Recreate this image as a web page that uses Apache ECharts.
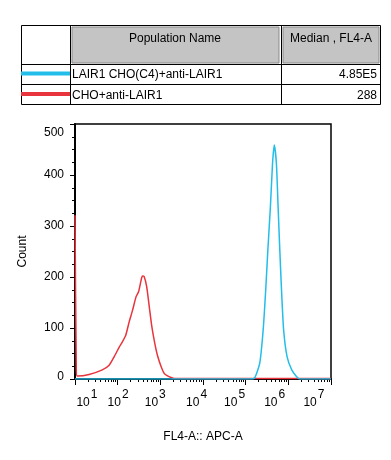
<!DOCTYPE html>
<html>
<head>
<meta charset="utf-8">
<script src="https://cdn.jsdelivr.net/npm/echarts@6/dist/echarts.min.js"></script>
<style>
html,body{margin:0;padding:0;background:#fff;}
#chart{width:391px;height:460px;}
</style>
</head>
<body>
<div id="chart"></div>
<script>
// ---- data (x in log10 units of FL4-A, y = count) ----
const populationNames = ['LAIR1 CHO(C4)+anti-LAIR1', 'CHO+anti-LAIR1'];
const medians = ['4.85E5', '288'];
const seriesColors = ['#22bde9', '#e8343c'];

const blueX = [1.00, 5.10, 5.21, 5.33, 5.41, 5.47, 5.52, 5.58, 5.63, 5.67, 5.72, 5.76, 5.80, 5.84, 5.89, 5.97, 6.08, 6.19, 6.27, 7.00];
const blueY = [0, 0, 2, 31, 96, 175, 253, 338, 423, 459, 423, 338, 253, 175, 96, 44, 18, 5, 0, 0];

const redX = [1.00, 1.03, 1.05, 1.33, 1.64, 1.80, 1.92, 2.04, 2.11, 2.19, 2.27, 2.35, 2.43, 2.49, 2.55, 2.58, 2.62, 2.68, 2.74, 2.80, 2.87, 2.94, 3.02, 3.09, 3.17, 3.25, 3.33, 4.00, 5.00, 6.00, 7.00];
const redY = [321, 20, 6, 9, 18, 27, 44, 63, 73, 86, 112, 135, 161, 171, 194, 202, 201, 181, 142, 103, 70, 44, 24, 11, 6, 3, 1, 1, 1, 1, 1];

const yTicks = [0, 100, 200, 300, 400, 500];
const xDecades = [1, 2, 3, 4, 5, 6, 7];
// where the instrument software drew the decade labels (axis units)
const xLabelAt = [1.28, 2.01, 2.88, 3.85, 4.74, 5.68, 6.60];

// ---- chart ----
const chart = echarts.init(document.getElementById('chart'), null, {renderer: 'canvas'});
const FONT = '"Liberation Sans", Arial, sans-serif';

const minorTicks = [];
for (let d = 1; d < 7; d++) {
  for (let k = 2; k <= 9; k++) minorTicks.push(Math.log10(k * Math.pow(10, d)));
}

const pair = (xs, ys) => xs.map((x, i) => [x, ys[i]]);

const g = [];
// table
g.push({type:'rect', shape:{x:21.5, y:25.5, width:359, height:79}, style:{fill:'#fff', stroke:'#000', lineWidth:1}, silent:true});
g.push({type:'rect', shape:{x:72, y:27, width:207, height:36}, style:{fill:'#c4c4c4', stroke:'#8a8a8a', lineWidth:1}, silent:true});
g.push({type:'rect', shape:{x:283, y:27, width:96, height:36}, style:{fill:'#c4c4c4', stroke:'#8a8a8a', lineWidth:1}, silent:true});
g.push({type:'line', shape:{x1:70.5, y1:25.5, x2:70.5, y2:104.5}, style:{stroke:'#000', lineWidth:1}, silent:true});
g.push({type:'line', shape:{x1:281.5, y1:25.5, x2:281.5, y2:104.5}, style:{stroke:'#000', lineWidth:1}, silent:true});
g.push({type:'line', shape:{x1:21.5, y1:64.5, x2:380.5, y2:64.5}, style:{stroke:'#000', lineWidth:1}, silent:true});
g.push({type:'line', shape:{x1:21.5, y1:84.5, x2:380.5, y2:84.5}, style:{stroke:'#000', lineWidth:1}, silent:true});
g.push({type:'text', x:175, y:39, style:{text:'Population Name', font:'12px ' + FONT, fill:'#000', align:'center', verticalAlign:'middle'}, silent:true});
g.push({type:'text', x:331, y:39, style:{text:'Median , FL4-A', font:'12px ' + FONT, fill:'#000', align:'center', verticalAlign:'middle'}, silent:true});
populationNames.forEach((name, i) => {
  const yc = 74.5 + i * 20.5;
  g.push({type:'line', shape:{x1:21, y1:yc - 1, x2:70, y2:yc - 1}, style:{stroke:seriesColors[i], lineWidth:4}, silent:true});
  g.push({type:'text', x:72, y:yc + 0.5, style:{text:name, font:'12px ' + FONT, fill:'#000', align:'left', verticalAlign:'middle'}, silent:true});
  g.push({type:'text', x:377, y:yc + 0.5, style:{text:medians[i], font:'12px ' + FONT, fill:'#000', align:'right', verticalAlign:'middle'}, silent:true});
});

const option = {
  animation: false,
  backgroundColor: '#fff',
  textStyle: {fontFamily: FONT},
  grid: {left: 75, right: 60, top: 124, bottom: 81, show: true, borderColor: '#000', borderWidth: 1.5, backgroundColor: '#fff'},
  xAxis: [{
    type: 'value', min: 1, max: 7, position: 'bottom',
    name: 'FL4-A:: APC-A', nameLocation: 'middle', nameGap: 52,
    nameTextStyle: {fontSize: 12, color: '#000', fontFamily: FONT},
    axisLine: {show: true, onZero: false, lineStyle: {color: '#000', width: 2}},
    axisTick: {show: true, length: 6, customValues: xDecades, lineStyle: {color: '#000', width: 1}},
    splitLine: {show: false},
    axisLabel: {
      show: true, margin: 10, customValues: xLabelAt,
      formatter: function (v) {
        let idx = 0, best = 1e9;
        xLabelAt.forEach((p, i) => { if (Math.abs(p - v) < best) { best = Math.abs(p - v); idx = i; } });
        return '{b|10}{s|' + xDecades[idx] + '}';
      },
      rich: {
        b: {fontSize: 12, color: '#000', fontFamily: FONT, padding: [8, 0, 0, 0]},
        s: {fontSize: 12, color: '#000', fontFamily: FONT, padding: [0, 0, 8, 1]}
      }
    }
  }, {
    type: 'value', min: 1, max: 7, position: 'bottom', offset: 0,
    axisLine: {show: false},
    axisTick: {show: true, length: 3, customValues: minorTicks, lineStyle: {color: '#000', width: 1}},
    axisLabel: {show: false},
    splitLine: {show: false}
  }],
  yAxis: {
    type: 'value', min: 0, max: 500, interval: 100,
    name: 'Count', nameLocation: 'middle', nameGap: 46, nameRotate: 90,
    nameTextStyle: {fontSize: 12, color: '#000', fontFamily: FONT},
    axisLine: {show: true, onZero: false, lineStyle: {color: '#000', width: 2}},
    axisTick: {show: true, length: 5, lineStyle: {color: '#000', width: 1}},
    minorTick: {show: true, splitNumber: 4, length: 3, lineStyle: {color: '#000', width: 1}},
    splitLine: {show: false},
    axisLabel: {
      margin: 11, fontSize: 12, color: '#000', fontFamily: FONT,
      formatter: function (v) {
        if (v === 500) return '{t|500}';
        if (v === 0) return '{z|0}';
        return String(v);
      },
      rich: {
        t: {fontSize: 12, color: '#000', fontFamily: FONT, padding: [18, 0, 0, 0]},
        z: {fontSize: 12, color: '#000', fontFamily: FONT, padding: [0, 0, 4, 0]}
      }
    }
  },
  series: [{
    name: populationNames[1], type: 'line', xAxisIndex: 0, data: pair(redX, redY),
    showSymbol: false, smooth: 0.2, lineStyle: {color: seriesColors[1], width: 1.5}, z: 2
  }, {
    name: populationNames[0], type: 'line', xAxisIndex: 0, data: pair(blueX, blueY),
    showSymbol: false, smooth: 0.2, lineStyle: {color: seriesColors[0], width: 1.5}, z: 3
  }],
  graphic: g
};
chart.setOption(option);
</script>
</body>
</html>
